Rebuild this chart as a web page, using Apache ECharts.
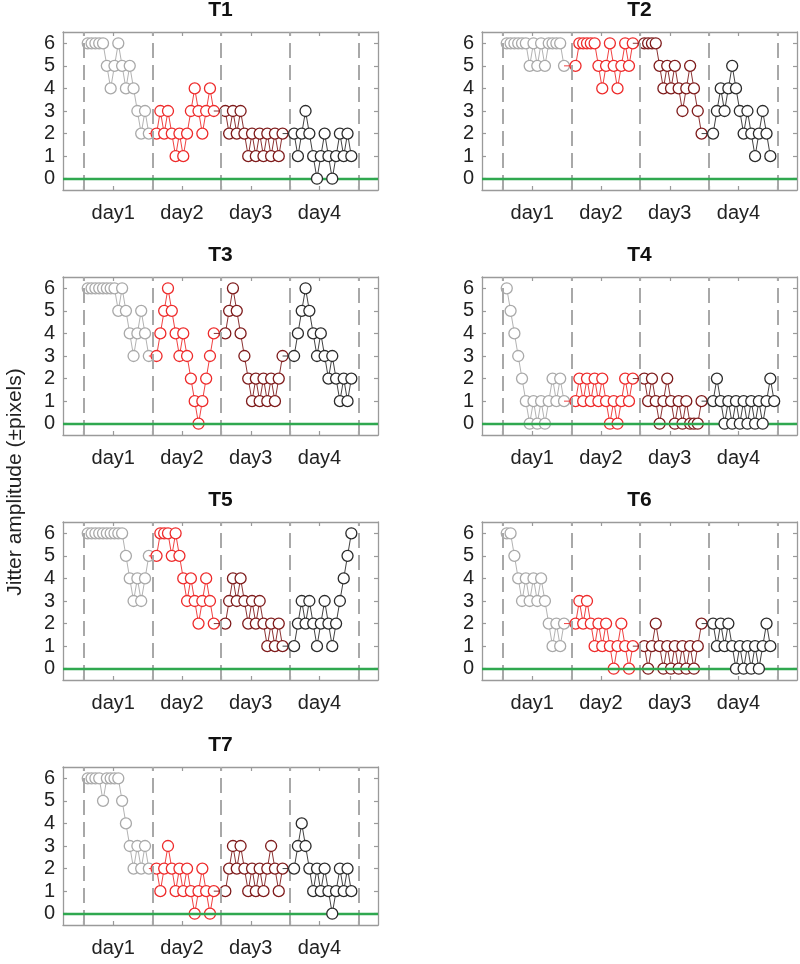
<!DOCTYPE html>
<html>
<head>
<meta charset="utf-8">
<script src="https://cdn.jsdelivr.net/npm/echarts@6/dist/echarts.min.js"></script>
<style>
html,body{margin:0;padding:0;background:#fff;}
#chart{width:800px;height:964px;}
</style>
</head>
<body>
<div id="chart"></div>
<script>
// ---- data (jitter amplitude per trial, one array per day) ----
const panelTitles = ['T1', 'T2', 'T3', 'T4', 'T5', 'T6', 'T7'];
const dayLabels = ['day1', 'day2', 'day3', 'day4'];
const yTickValues = [0, 1, 2, 3, 4, 5, 6];
const dayBoundaries = [0, 1, 2, 3, 4];

const T1 = [
  [6,6,6,6,6,5,4,5,6,5,4,5,4,3,2,3,2],
  [2,3,2,3,2,1,2,1,2,3,4,3,2,3,4,3],
  [3,2,3,2,3,2,1,2,1,2,1,2,1,2,1,2],
  [2,1,2,3,2,1,0,1,2,1,0,1,2,1,2,1]
];
const T2 = [
  [6,6,6,6,6,6,5,6,5,6,5,6,6,6,6,5],
  [5,6,6,6,6,6,5,4,5,6,5,4,5,6,5,6],
  [6,6,6,6,5,4,5,4,5,4,3,4,5,4,3,2],
  [2,3,4,3,4,5,4,3,2,3,2,1,2,3,2,1]
];
const T3 = [
  [6,6,6,6,6,6,6,6,5,6,5,4,3,4,5,4,3],
  [3,4,5,6,5,4,3,4,3,2,1,0,1,2,3,4],
  [4,5,6,5,4,3,2,1,2,1,2,1,2,1,2,3],
  [3,4,5,6,5,4,3,4,3,2,3,2,1,2,1,2]
];
const T4 = [
  [6,5,4,3,2,1,0,1,0,1,0,1,2,1,2,1],
  [1,2,1,2,1,2,1,2,1,0,1,0,1,2,1,2],
  [2,1,2,1,0,1,2,1,0,1,0,1,0,0,0,1],
  [1,2,1,0,1,0,1,0,1,0,1,0,1,0,1,2,1]
];
const T5 = [
  [6,6,6,6,6,6,6,6,6,6,5,4,3,4,3,4,5],
  [5,6,6,6,5,6,5,4,3,4,3,2,3,4,3,2],
  [2,3,4,3,4,3,2,3,2,3,2,1,2,1,2,1],
  [1,2,3,2,3,2,1,2,3,2,1,2,3,4,5,6]
];
const T6 = [
  [6,6,5,4,3,4,3,4,3,4,3,2,1,2,1,2],
  [2,3,2,3,2,1,2,1,2,1,0,1,2,1,0,1],
  [1,0,1,2,1,0,1,0,1,0,1,0,1,0,1,2],
  [2,1,2,1,2,1,0,1,0,1,0,1,0,1,2,1]
];
const T7 = [
  [6,6,6,6,5,6,6,6,6,5,4,3,2,3,2,3,2],
  [2,1,2,3,2,1,2,1,2,1,0,1,2,1,0,1],
  [1,2,3,2,3,2,1,2,1,2,1,2,3,2,1,2],
  [2,3,4,3,2,1,2,1,2,1,0,1,2,1,2,1]
];
const panels = [T1, T2, T3, T4, T5, T6, T7];

// ---- styling / layout ----
const dayColors = ['#a9a9a9', '#ee2b2b', '#7e1b1b', '#2b2b2b'];
const FONT = 'Arial, "Liberation Sans", sans-serif';
const trialOffset = 0.06, trialStep = 0.0555;
const colLeft = [63, 482], rowTop = [32, 277, 522, 767];
const gW = 315, gH = 158;
const axisGray = '#9a9a9a';
const xTickValues = [];
dayBoundaries.forEach((b, i) => { xTickValues.push(b); if (i < dayLabels.length) xTickValues.push(b + 0.43); });
const xLabelValues = dayLabels.map((_, i) => i + 0.43);

const grid = [], xAxis = [], yAxis = [], series = [], graphic = [];

panels.forEach((panel, p) => {
  const col = p % 2, row = Math.floor(p / 2);
  const left = colLeft[col], top = rowTop[row];
  grid.push({ left: left, top: top, width: gW, height: gH, containLabel: false });

  const baseX = {
    gridIndex: p, type: 'value', min: -0.3, max: 4.28,
    axisLine: { show: true, onZero: false, lineStyle: { color: axisGray, width: 1.3 } },
    axisTick: { show: true, inside: true, length: 4, customValues: xTickValues, lineStyle: { color: axisGray, width: 1.2 } },
    splitLine: { show: false }
  };
  xAxis.push(Object.assign({}, baseX, {
    position: 'bottom',
    axisLabel: {
      show: true, customValues: xLabelValues, margin: 13,
      fontFamily: FONT, fontSize: 20, color: '#222',
      formatter: v => dayLabels[Math.round(v - 0.43)]
    }
  }));
  xAxis.push(Object.assign({}, baseX, { position: 'top', axisLabel: { show: false } }));

  const baseY = {
    gridIndex: p, type: 'value', min: -0.5, max: 6.5,
    axisLine: { show: true, onZero: false, lineStyle: { color: axisGray, width: 1.3 } },
    axisTick: { show: true, inside: true, length: 4, customValues: yTickValues, lineStyle: { color: axisGray, width: 1.2 } },
    splitLine: { show: false }
  };
  yAxis.push(Object.assign({}, baseY, {
    position: 'left',
    axisLabel: { show: true, customValues: yTickValues, margin: 8, fontFamily: FONT, fontSize: 20, color: '#222' }
  }));
  yAxis.push(Object.assign({}, baseY, { position: 'right', axisLabel: { show: false } }));

  const xi = p * 2, yi = p * 2;

  // dashed day boundaries
  series.push({
    type: 'line', xAxisIndex: xi, yAxisIndex: yi, data: [], z: 1, silent: true,
    markLine: {
      silent: true, symbol: 'none', label: { show: false }, animation: false,
      lineStyle: { color: '#a8a8a8', width: 2, type: [15, 7] },
      data: dayBoundaries.map(b => ({ xAxis: b }))
    }
  });

  // day series
  let prev = null;
  panel.forEach((vals, d) => {
    const pts = vals.map((v, i) => [d + trialOffset + i * trialStep, v]);
    const data = [];
    if (prev) data.push({ value: prev, symbol: 'none', symbolSize: 0 });
    pts.forEach(pt => data.push({ value: pt }));
    prev = pts[pts.length - 1];
    series.push({
      type: 'line', xAxisIndex: xi, yAxisIndex: yi, z: 2 + d,
      data: data, symbol: 'circle', symbolSize: 11, showSymbol: true,
      itemStyle: { color: '#ffffff', borderColor: dayColors[d], borderWidth: 1.3 },
      lineStyle: { color: dayColors[d], width: 0.9 },
      emphasis: { disabled: true }, silent: true, animation: false, clip: false
    });
  });

  // green zero line
  series.push({
    type: 'line', xAxisIndex: xi, yAxisIndex: yi, data: [], z: 10, silent: true,
    markLine: {
      silent: true, symbol: 'none', label: { show: false }, animation: false,
      lineStyle: { color: '#2fa84f', width: 2.4, type: 'solid' },
      data: [{ yAxis: 0 }]
    }
  });

  graphic.push({
    type: 'text', x: left + gW / 2, y: top - 22,
    style: { text: panelTitles[p], font: 'bold 21px ' + FONT, fill: '#111', align: 'center', verticalAlign: 'middle', textAlign: 'center', textVerticalAlign: 'middle' }
  });
});

graphic.push({
  type: 'text', x: 15, y: 482, rotation: Math.PI / 2,
  style: { text: 'Jitter amplitude (\u00b1pixels)', font: '21px ' + FONT, fill: '#222', align: 'center', verticalAlign: 'middle', textAlign: 'center', textVerticalAlign: 'middle' }
});

const chart = echarts.init(document.getElementById('chart'), null, { renderer: 'canvas' });
chart.setOption({
  animation: false,
  backgroundColor: '#ffffff',
  grid: grid, xAxis: xAxis, yAxis: yAxis, series: series, graphic: graphic
});
</script>
</body>
</html>
